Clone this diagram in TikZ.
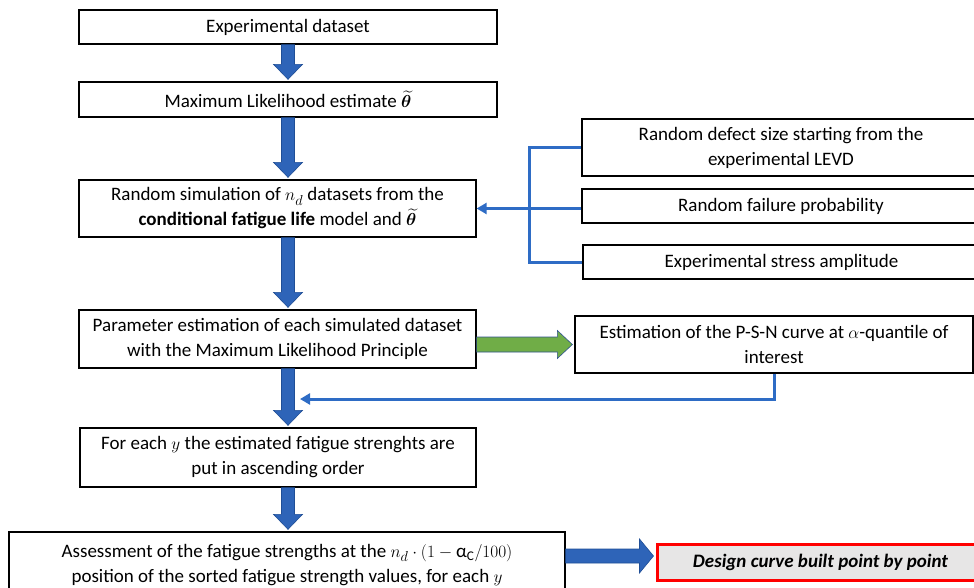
\documentclass[tikz,border=0pt]{standalone}
\usepackage{fontspec}
\usepackage{amsmath,bm}
\setmainfont{Carlito}
\usetikzlibrary{calc,arrows.meta}
\definecolor{ablue}{HTML}{2E64B8}
\definecolor{aborder}{HTML}{1F4E96}
\definecolor{lblue}{HTML}{2E6CC5}
\definecolor{agreen}{HTML}{70AD47}
\definecolor{gborder}{HTML}{2F528F}
\definecolor{lgray}{HTML}{E7E6E6}
\newcommand{\myvarrow}[2]{\draw[blockblue] let \p1=(#1), \p2=(#2) in
  (\x1-6.5pt,\y1) -- (\x1+6.5pt,\y1) -- (\x1+6.5pt,\y2+17pt) -- (\x1+14.5pt,\y2+17pt)
  -- (\x1,\y2+2pt) -- (\x1-14.5pt,\y2+17pt) -- (\x1-6.5pt,\y2+17pt) -- cycle;}
\newcommand{\myharrow}[6]{\draw[#1] let \p1=(#2), \p2=(#3) in
  (\x1,\y1+#4) -- (\x2-2pt-#6,\y1+#4) -- (\x2-2pt-#6,\y1+#5) -- (\x2-2pt,\y1)
  -- (\x2-2pt-#6,\y1-#5) -- (\x2-2pt-#6,\y1-#4) -- (\x1,\y1-#4) -- cycle;}
\begin{document}
\begin{tikzpicture}[x=1pt,y=-1pt,
  box/.style={draw=black, line width=1.3pt, fill=white, align=center, inner sep=2pt,
    font=\fontsize{19}{25}\selectfont},
  blockblue/.style={fill=ablue, draw=aborder, line width=0.6pt},
  greenarrow/.style={fill=agreen, draw=gborder, line width=0.6pt},
  conn/.style={draw=lblue, line width=3pt},
  connarrow/.style={conn, -{Triangle[length=10pt,width=11pt]}},
  redbox/.style={draw=red, line width=3pt, fill=lgray, align=center,
    font=\fontsize{19}{25}\selectfont\bfseries\itshape}]
\useasboundingbox (0,0) rectangle (974,588);
\clip (0,0) rectangle (974,588);

\node[box, minimum width=418pt, minimum height=34pt] (b1) at (288,27) {Experimental dataset};
\node[box, minimum width=418pt, minimum height=35pt] (b2) at (288,99.5)
  {Maximum Likelihood estimate $\widetilde{\bm{\theta}}$};
\node[box, minimum width=397pt, minimum height=57pt] (b3) at (277.5,208.5)
  {Random simulation of $n_d$ datasets from the\\ \textbf{conditional fatigue life} model and $\widetilde{\bm{\theta}}$};
\node[box, minimum width=398pt, minimum height=57pt] (r1) at (781,147.5)
  {Random defect size starting from the\\ experimental LEVD};
\node[box, minimum width=398pt, minimum height=34pt] (r2) at (781,206) {Random failure probability};
\node[box, minimum width=397pt, minimum height=34pt] (r3) at (781.5,262) {Experimental stress amplitude};
\node[box, minimum width=397pt, minimum height=58pt] (b5) at (277.5,339)
  {Parameter estimation of each simulated dataset\\ with the Maximum Likelihood Principle};
\node[box, minimum width=398pt, minimum height=57pt] (p) at (774,344.5)
  {Estimation of the P-S-N curve at $\alpha$-quantile of\\ interest};
\node[box, minimum width=396pt, minimum height=59pt] (b6) at (278,457.5)
  {For each $y$ the estimated fatigue strenghts are\\ put in ascending order};
\node[box, minimum width=556pt, minimum height=66pt] (b8) at (287,565)
  {Assessment of the fatigue strengths at the $n_d\cdot(1-\text{α}_{\mathrm{C}}/100)$\\ position of the sorted fatigue strength values, for each $y$};
\node[redbox, minimum width=327pt, minimum height=36pt] (rb) at (820.5,562)
  {Design curve built point by point};

% vertical block arrows
\myvarrow{b1.south}{b2.north}
\myvarrow{b2.south}{b2.south|-b3.north}
\myvarrow{b2.south|-b3.south}{b2.south|-b5.north}
\myvarrow{b2.south|-b5.south}{b2.south|-b6.north}
\myvarrow{b2.south|-b6.south}{b2.south|-b8.north}

% horizontal block arrows
\myharrow{greenarrow}{b5.east|-p.west}{p.west}{7.5pt}{14pt}{15pt}
\myharrow{blockblue}{$(b8.east)+(0,-9)$}{rb.west}{7pt}{17pt}{14pt}

% inputs bracket
\coordinate (bx) at (529,0);
\draw[conn] (r1.west) -| (bx|-r3.west) -- (r3.west);
\draw[connarrow] (r2.west|-b3.east) -- (b3.east);

% feedback
\coordinate (fb) at (300,399);
\draw[connarrow] (p.south) |- (fb);
\end{tikzpicture}
\end{document}
